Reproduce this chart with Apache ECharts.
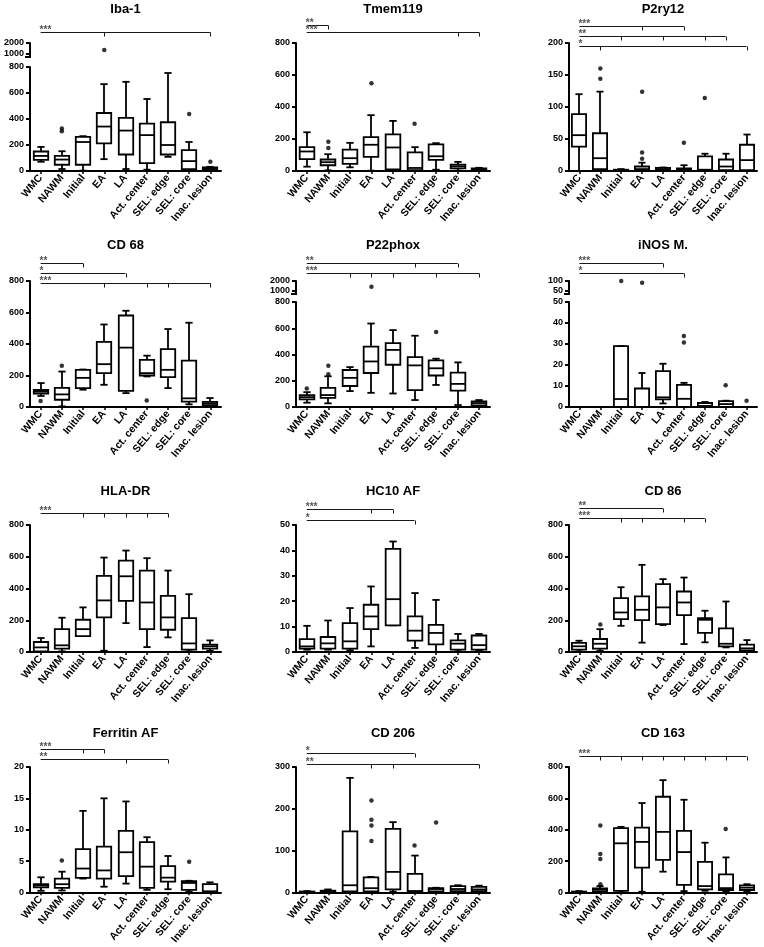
<!DOCTYPE html>
<html><head><meta charset="utf-8">
<script src="https://cdn.jsdelivr.net/npm/echarts@6/dist/echarts.min.js"></script>
<style>html,body{margin:0;padding:0;background:#fff}#c{width:764px;height:947px}</style>
</head><body><div id="c"></div>
<script>
const categories = ['WMC','NAWM','Initial','EA','LA','Act. center','SEL: edge','SEL: core','Inac. lesion'];

// box data per category: [min, Q1, median, Q3, max]
const iba1Box = [[71,86,116,150,185],[15,48,88,116,152],[3,48,223,263,268],[91,213,342,446,668],[15,127,311,408,686],[10,61,276,365,554],[109,127,200,375,754],[8,15,76,160,223],[3,10,18,28,32]];
const iba1Out = [[1,306],[1,327],[3,1375],[7,438],[8,71]];
const iba1Sig = [{stars:'***',to:8,ticks:[3,8]}];

const tmemBox = [[27,74,122,149,242],[4,36,55,72,105],[23,44,80,134,176],[2,88,164,212,349],[2,10,147,229,313],[0,6,19,116,149],[8,69,92,166,174],[2,17,29,40,57],[1,4,10,17,20]];
const tmemOut = [[1,183],[1,143],[3,548],[5,296]];
const tmemSig = [{stars:'**',to:1,ticks:[1]},{stars:'***',to:8,ticks:[7,8]}];

const p2ryBox = [[0,38,56,89,120],[0,3,20,59,124],[0,0.5,1,2,3],[0,1.5,3,7,13],[0,1,3,5,5.5],[0,1,2,4,9],[0,0.5,2,23,27],[0,1.5,7,18,27],[0,1.5,17,41,57]];
const p2ryOut = [[1,160],[1,144],[3,124],[3,29],[3,19],[5,44],[6,114]];
const p2rySig = [{stars:'***',to:5,ticks:[3,5]},{stars:'**',to:7,ticks:[2,4,6,7]},{stars:'*',to:8,ticks:[1,8]}];

const cd68Box = [[70,85,97,108,152],[4,46,80,122,225],[110,120,185,236,238],[141,215,272,413,524],[88,103,377,581,611],[194,200,215,299,326],[120,190,236,368,495],[17,34,55,295,535],[4,11,23,32,57]];
const cd68Out = [[0,38],[1,262],[5,42]];
const cd68Sig = [{stars:'**',to:2,ticks:[2]},{stars:'*',to:4,ticks:[4]},{stars:'***',to:8,ticks:[3,5,6,8]}];

const p22Box = [[33,58,75,91,113],[28,70,91,145,234],[121,160,222,282,304],[108,259,347,460,636],[103,322,435,486,586],[53,128,317,380,543],[168,240,295,355,368],[15,124,176,262,340],[8,13,30,43,53]];
const p22Out = [[0,141],[1,314],[1,250],[3,1430],[6,572]];
const p22Sig = [{stars:'**',to:7,ticks:[5,7]},{stars:'***',to:8,ticks:[2,3,4,6,8]}];

const inosBox = [[0,0,0,0,0],[0,0,0,0,0],[0,0,3.8,29,29],[0,0,0,8.8,16.2],[1.7,3.6,4.6,17.1,20.6],[0,0,3.9,10.5,11.5],[0,0,0.5,1.9,2.4],[0,0,1.4,2.8,3],[0,0,0,0,0]];
const inosOut = [[2,100],[3,91],[5,33.8],[5,30.7],[7,10.4],[8,3]];
const inosSig = [{stars:'***',to:4,ticks:[4]},{stars:'*',to:5,ticks:[5]}];

const hlaBox = [[0,4,29,63,88],[4,21,42,144,216],[100,100,144,203,281],[8,218,325,480,595],[182,322,477,576,639],[31,144,312,513,591],[92,140,218,354,513],[4,15,54,214,364],[8,21,36,46,73]];
const hlaOut = [];
const hlaSig = [{stars:'***',to:6,ticks:[2,3,4,5,6]}];

const hc10Box = [[0.9,1.3,2.2,5.1,10.3],[0.9,1.3,3.4,5.9,12.4],[0.7,1.3,4.2,11.4,17.3],[2.2,9,14,18.6,25.8],[10.5,10.5,20.8,40.6,43.5],[1.6,4.5,8.4,14,23.2],[0,3,7.5,10.7,20.5],[0.3,0.9,3.3,4.6,7.1],[0.5,0.9,2.7,6.5,7.1]];
const hc10Out = [];
const hc10Sig = [{stars:'***',to:4,ticks:[3,4]},{stars:'*',to:5,ticks:[5]}];

const cd86Box = [[4,15,36,57,71],[8,21,52,82,144],[165,207,249,339,408],[59,201,266,350,549],[170,176,281,427,459],[50,232,312,381,469],[61,121,203,214,260],[29,36,52,149,318],[4,10,23,46,75]];
const cd86Out = [[1,174]];
const cd86Sig = [{stars:'**',to:4,ticks:[4]},{stars:'***',to:6,ticks:[2,3,5,6]}];

const ferrBox = [[0.25,0.8,1.1,1.3,2.4],[0.3,0.7,1.3,2.2,3.3],[2.2,2.3,3.8,6.9,13],[0.9,2.2,3.5,7.3,15],[1.4,2.6,6.4,9.8,14.5],[0.4,0.7,4.1,8,8.8],[0.5,1.7,2.35,4.2,5.8],[0.1,0.4,1.5,1.8,1.85],[0,0.1,0.15,1.3,1.6]];
const ferrOut = [[1,5.1],[7,4.9]];
const ferrSig = [{stars:'***',to:3,ticks:[2,3]},{stars:'**',to:6,ticks:[4,6]}];

const cd206Box = [[0,0.5,1,2,3],[0,1,2,4,7],[0,2,17,146,274],[0,2,10,36,37],[2,7,49,152,168],[0,2,3,44,88],[0,2,8,10,11],[0,3,8,15,17],[0,3,7,13,16]];
const cd206Out = [[3,220],[3,174],[3,160],[3,123],[5,112],[6,167]];
const cd206Sig = [{stars:'*',to:5,ticks:[5]},{stars:'**',to:8,ticks:[3,4,8]}];

const cd163Box = [[0,0,2,5,8],[0,6,17,25,40],[0,10,313,410,418],[4,158,322,413,570],[132,207,386,610,716],[8,48,257,392,591],[10,19,40,195,317],[4,15,27,115,223],[8,15,30,44,52]];
const cd163Out = [[1,426],[1,244],[1,213],[1,52],[7,405]];
const cd163Sig = [{stars:'***',to:8,ticks:[1,2,3,4,5,6,7,8]}];

const panels = [
  {title:'Iba-1', box:iba1Box, out:iba1Out, sig:iba1Sig, yMax:800, yStep:200, seg:{min:1000,max:2000,step:1000}},
  {title:'Tmem119', box:tmemBox, out:tmemOut, sig:tmemSig, yMax:800, yStep:200},
  {title:'P2ry12', box:p2ryBox, out:p2ryOut, sig:p2rySig, yMax:200, yStep:50},
  {title:'CD 68', box:cd68Box, out:cd68Out, sig:cd68Sig, yMax:800, yStep:200},
  {title:'P22phox', box:p22Box, out:p22Out, sig:p22Sig, yMax:800, yStep:200, seg:{min:1000,max:2000,step:1000}},
  {title:'iNOS M.', box:inosBox, out:inosOut, sig:inosSig, yMax:50, yStep:10, seg:{min:50,max:100,step:50}},
  {title:'HLA-DR', box:hlaBox, out:hlaOut, sig:hlaSig, yMax:800, yStep:200},
  {title:'HC10 AF', box:hc10Box, out:hc10Out, sig:hc10Sig, yMax:50, yStep:10},
  {title:'CD 86', box:cd86Box, out:cd86Out, sig:cd86Sig, yMax:800, yStep:200},
  {title:'Ferritin AF', box:ferrBox, out:ferrOut, sig:ferrSig, yMax:20, yStep:5},
  {title:'CD 206', box:cd206Box, out:cd206Out, sig:cd206Sig, yMax:300, yStep:100},
  {title:'CD 163', box:cd163Box, out:cd163Out, sig:cd163Sig, yMax:800, yStep:200}
];

// ---- layout (pixels) ----
const colX = [[30,221],[296,490],[569,757]];
const rowY = [
  {top:43, bottom:171, segTop:43, segBottom:54, mainTop:67, titleY:9},
  {top:281, bottom:407, segTop:281, segBottom:291, mainTop:302, titleY:245},
  {top:525, bottom:652, titleY:491},
  {top:767, bottom:895, titleY:733}
];
const sigLevels = [[11],[18,11],[17,7,-3],[18,8,-2],[18,8],[18,8],[12],[16,5],[17,7],[18,8],[14,3],[11]];

const FONT = '"Liberation Sans", Arial, sans-serif';
const BLACK = '#000';

function boxRender(params, api){
  const x = api.value(0);
  const v = [1,2,3,4,5].map(k => api.value(k));
  const c = v.map(val => api.coord([x, val]));
  const cx = Math.round(c[0][0]);
  const band = api.size([1,0])[0];
  const hw = band*0.34, cw = band*0.17;
  const ls = {stroke:BLACK, lineWidth:1.8, fill:null};
  return {type:'group', children:[
    {type:'line', shape:{x1:cx,y1:c[0][1],x2:cx,y2:c[1][1]}, style:ls},
    {type:'line', shape:{x1:cx,y1:c[3][1],x2:cx,y2:c[4][1]}, style:ls},
    {type:'line', shape:{x1:cx-cw,y1:c[0][1],x2:cx+cw,y2:c[0][1]}, style:ls},
    {type:'line', shape:{x1:cx-cw,y1:c[4][1],x2:cx+cw,y2:c[4][1]}, style:ls},
    {type:'rect', shape:{x:cx-hw,y:c[3][1],width:2*hw,height:c[1][1]-c[3][1]}, style:{stroke:BLACK,lineWidth:1.8,fill:'#fff'}},
    {type:'line', shape:{x1:cx-hw,y1:c[2][1],x2:cx+hw,y2:c[2][1]}, style:ls}
  ]};
}

function makeBracketRender(sig, levels, topVal){
  return function(params, api){
    const s = sig[params.dataIndex];
    const p0 = api.coord([0, topVal]);
    const y = Math.round(p0[1] - levels[params.dataIndex]) + 0.5;
    const x0 = p0[0];
    const x1 = api.coord([s.to, topVal])[0];
    const st = {stroke:'#1a1a1a', lineWidth:1};
    const children = [{type:'line', shape:{x1:x0,y1:y,x2:x1,y2:y}, style:st}];
    s.ticks.forEach(t => {
      const xt = Math.round(api.coord([t, topVal])[0]) + 0.5;
      children.push({type:'line', shape:{x1:xt,y1:y,x2:xt,y2:y+4}, style:st});
    });
    children.push({type:'text', style:{text:s.stars, x:x0-1, y:y-2.5, font:'bold 10px '+FONT, fill:'#555', align:'left', verticalAlign:'middle'}});
    return {type:'group', children};
  };
}

// axis-break hook drawn below the lower end of the upper segment axis
function makeBreakRender(minVal){
  return function(params, api){
    const p = api.coord([0, minVal]);
    const ax = p[0] - api.size([1,0])[0]/2;
    const y = p[1];
    const st = {stroke:BLACK, lineWidth:2};
    return {type:'group', children:[
      {type:'line', shape:{x1:ax, y1:y, x2:ax, y2:y+3}, style:st},
      {type:'line', shape:{x1:ax+1, y1:y+3, x2:ax-5, y2:y+3}, style:st}
    ]};
  };
}

const grids=[], xAxes=[], yAxes=[], series=[], graphics=[];
function yAxisCfg(gi, min, max, step){
  return {gridIndex:gi, type:'value', min, max, interval:step,
    axisLine:{show:true, lineStyle:{color:BLACK, width:2}},
    axisTick:{show:true, length:4, lineStyle:{color:BLACK, width:2}},
    axisLabel:{fontSize:9, fontWeight:'bold', color:BLACK, margin:6, fontFamily:FONT, formatter:v => String(v)},
    splitLine:{show:false}};
}
panels.forEach((p, i) => {
  const col = i % 3, row = Math.floor(i / 3);
  const [L, R] = colX[col];
  const ry = rowY[row];
  const mainTop = p.seg ? ry.mainTop : ry.top;
  const gi = grids.length;
  grids.push({left:L, top:mainTop, width:R-L, height:ry.bottom-mainTop});
  xAxes.push({gridIndex:gi, type:'category', data:categories,
    axisLine:{lineStyle:{color:BLACK, width:2}},
    axisTick:{show:true, alignWithLabel:true, length:3, lineStyle:{color:BLACK, width:1.5}},
    axisLabel:{rotate:50, interval:0, fontSize:10.5, fontWeight:'bold', color:BLACK, margin:5, fontFamily:FONT},
    splitLine:{show:false}});
  yAxes.push(yAxisCfg(gi, 0, p.yMax, p.yStep));
  let si = null;
  if (p.seg) {
    si = grids.length;
    grids.push({left:L, top:ry.segTop, width:R-L, height:ry.segBottom-ry.segTop});
    xAxes.push({gridIndex:si, type:'category', data:categories, show:false});
    yAxes.push(yAxisCfg(si, p.seg.min, p.seg.max, p.seg.step));
    series.push({type:'custom', xAxisIndex:si, yAxisIndex:si, clip:false, z:5,
      renderItem:makeBreakRender(p.seg.min), encode:{x:0, y:1}, data:[[0, p.seg.min]]});
  }
  series.push({type:'custom', xAxisIndex:gi, yAxisIndex:gi, clip:false, z:3,
    renderItem:boxRender, encode:{x:0, y:[1,2,3,4,5]},
    data:p.box.map((b,k) => [k].concat(b))});
  series.push({type:'scatter', xAxisIndex:gi, yAxisIndex:gi, symbolSize:4.5, z:4,
    itemStyle:{color:BLACK}, data:p.out.filter(o => o[1] <= p.yMax)});
  if (si !== null) {
    series.push({type:'scatter', xAxisIndex:si, yAxisIndex:si, symbolSize:4.5, z:4,
      itemStyle:{color:BLACK}, data:p.out.filter(o => o[1] > p.yMax)});
  }
  const bg = si !== null ? si : gi;
  const topVal = si !== null ? p.seg.max : p.yMax;
  series.push({type:'custom', xAxisIndex:bg, yAxisIndex:bg, clip:false, z:5,
    renderItem:makeBracketRender(p.sig, sigLevels[i], topVal), encode:{x:0, y:1},
    data:p.sig.map(s => [0, topVal])});
  graphics.push({type:'text', x:(L+R)/2, y:ry.titleY,
    style:{text:p.title, font:'bold 13px '+FONT, fill:BLACK, align:'center', verticalAlign:'middle'}});
});

const chart = echarts.init(document.getElementById('c'), null, {renderer:'canvas'});
chart.setOption({
  animation:false,
  backgroundColor:'#fff',
  textStyle:{fontFamily:FONT},
  grid:grids, xAxis:xAxes, yAxis:yAxes, series, graphic:graphics
});
</script></body></html>
